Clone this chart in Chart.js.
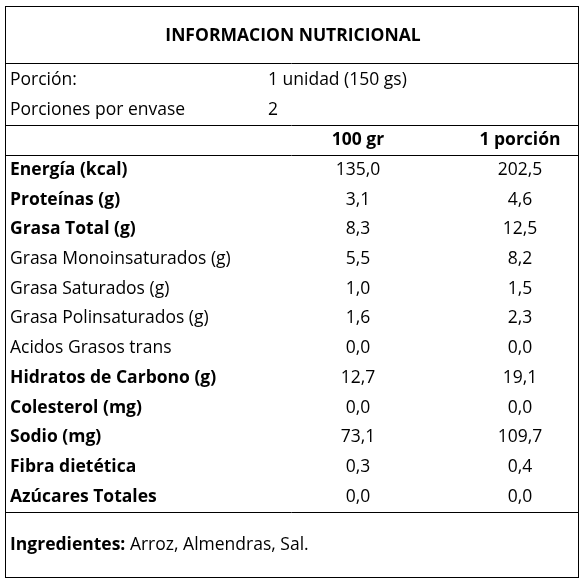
<!DOCTYPE html>
<html>
<head>
<meta charset="utf-8">
<script src="https://cdn.jsdelivr.net/npm/chart.js@4"></script>
<style>
html,body{margin:0;padding:0;background:#fff;}
#wrap{width:582px;height:580px;}
</style>
</head>
<body>
<div id="wrap"><canvas id="tabla"></canvas></div>
<script>
const titulo = "INFORMACION NUTRICIONAL";
const porcion = ["Porción:", "1 unidad (150 gs)"];
const porEnvase = ["Porciones por envase", "2"];
const columnas = ["100 gr", "1 porción"];
const nutrientes = ["Energía (kcal)", "Proteínas (g)", "Grasa Total (g)", "Grasa Monoinsaturados (g)", "Grasa Saturados (g)", "Grasa Polinsaturados (g)", "Acidos Grasos trans", "Hidratos de Carbono (g)", "Colesterol (mg)", "Sodio (mg)", "Fibra dietética", "Azúcares Totales"];
const negrita = [true, true, true, false, false, false, false, true, true, true, true, true];
const por100 = ["135,0", "3,1", "8,3", "5,5", "1,0", "1,6", "0,0", "12,7", "0,0", "73,1", "0,3", "0,0"];
const porPorcion = ["202,5", "4,6", "12,5", "8,2", "1,5", "2,3", "0,0", "19,1", "0,0", "109,7", "0,4", "0,0"];
const ingredientes = ["Ingredientes:", " Arroz, Almendras, Sal."];

const FONT = "'Open Sans', sans-serif";
const SIZE = '17.5px ';

// dibuja la tabla sobre las escalas del grafico
const tablaPlugin = {
    id: 'tabla',
    afterDraw(chart) {
        const ctx = chart.ctx;
        const x = chart.scales.x, y = chart.scales.y;
        const px = v => x.getPixelForValue(v), py = v => y.getPixelForValue(v);
        ctx.save();
        ctx.strokeStyle = '#000';
        ctx.lineWidth = 1;
        ctx.strokeRect(px(5) + 0.5, py(6) + 0.5, px(578) - px(5), py(577) - py(6));
        [63, 125, 155, 512].forEach(l => {
            ctx.beginPath();
            ctx.moveTo(px(5), py(l) + 0.5);
            ctx.lineTo(px(578), py(l) + 0.5);
            ctx.stroke();
        });
        ctx.fillStyle = '#000';
        ctx.textBaseline = 'middle';
        const txt = (t, xx, yy, bold, align) => {
            ctx.font = (bold ? 'bold ' : '') + SIZE + FONT;
            ctx.textAlign = align || 'left';
            ctx.fillText(t, px(xx), py(yy));
        };
        txt(titulo, 293, 36, true, 'center');
        txt(porcion[0], 10, 80, false); txt(porcion[1], 268, 80, false);
        txt(porEnvase[0], 10, 110, false); txt(porEnvase[1], 268, 110, false);
        txt(columnas[0], 358, 140, true, 'center');
        txt(columnas[1], 520, 140, true, 'center');
        nutrientes.forEach((n, i) => {
            const yy = 170 + i * 29.7;
            txt(n, 10, yy, negrita[i]);
            txt(por100[i], 358, yy, false, 'center');
            txt(porPorcion[i], 520, yy, false, 'center');
        });
        ctx.font = 'bold ' + SIZE + FONT;
        ctx.textAlign = 'left';
        const w = ctx.measureText(ingredientes[0]).width;
        txt(ingredientes[0], 10, 545, true);
        ctx.font = SIZE + FONT;
        ctx.fillText(ingredientes[1], px(10) + w, py(545));
        ctx.restore();
    }
};

new Chart(document.getElementById('tabla'), {
    type: 'scatter',
    data: { datasets: [{ data: [] }] },
    options: {
        responsive: true,
        maintainAspectRatio: false,
        animation: false,
        layout: { padding: 0 },
        plugins: { legend: { display: false }, tooltip: { enabled: false } },
        scales: {
            x: { type: 'linear', min: 0, max: 582, display: false },
            y: { type: 'linear', min: 0, max: 580, reverse: true, display: false }
        }
    },
    plugins: [tablaPlugin]
});
</script>
</body>
</html>
